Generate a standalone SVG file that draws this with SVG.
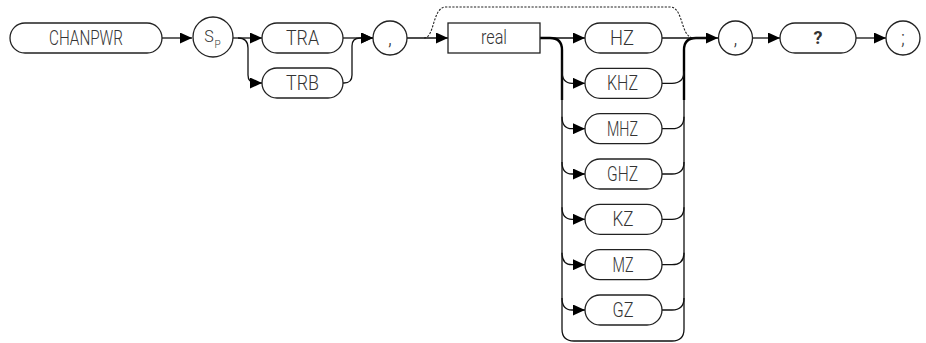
<svg xmlns="http://www.w3.org/2000/svg" width="926" height="343" viewBox="0 0 926 343">
<style>
.n{fill:#fff;stroke:#222;stroke-width:1.3}
.t{font-family:Roboto,"Liberation Sans",sans-serif;font-weight:300;font-size:20px;fill:#333;text-anchor:middle;dominant-baseline:central}
.c{fill:none;stroke:#111;stroke-width:1.3}
.k{fill:none;stroke:#000;stroke-width:2.4}
.d{fill:none;stroke:#222;stroke-width:1.1;stroke-dasharray:2.2 1.4}
</style>
<defs>
<marker id="a" markerUnits="userSpaceOnUse" markerWidth="12" markerHeight="11" refX="12" refY="5.5" orient="auto">
<path d="M0,0 L12,5.5 L0,11 z" fill="#000"/>
</marker>
</defs>
<g id="connectors">
<path class="c" d="M162 38 L192 38" marker-end="url(#a)"/>
<path class="c" d="M233 38 L262 38" marker-end="url(#a)"/>
<path class="c" d="M238 38 Q248 38 248 48 L248 75 Q248 83 256 83 L262 83" marker-end="url(#a)"/>
<path class="c" d="M343 38 L373 38" marker-end="url(#a)"/>
<path class="c" d="M343 83 L344 83 Q352 83 352 75 L352 46 Q352 38 360 38 L373 38" marker-end="url(#a)"/>
<path class="c" d="M407 38 L448 38" marker-end="url(#a)"/>
<path class="d" d="M424 38 C435 38 432 7 446 7 L670 7 C684 7 680 38 694 38"/>
<path class="c" d="M540 38 L585 38" marker-end="url(#a)"/>
<path class="k" d="M540 38 L550 38 Q562 38 562 50 L562 100"/>
<path class="c" d="M562 60 L562 329 Q562 341 574 341 L672 341 Q684 341 684 329 L684 60"/>
<path class="k" d="M684 100 L684 50 Q684 38 696 38 L706 38"/>
<path class="c" d="M662 38 L718 38" marker-end="url(#a)"/>
<path class="c" d="M562 71.3 Q562 83.3 572 83.3 L585 83.3" marker-end="url(#a)"/>
<path class="c" d="M562 116.7 Q562 128.7 572 128.7 L585 128.7" marker-end="url(#a)"/>
<path class="c" d="M562 162 Q562 174 572 174 L585 174" marker-end="url(#a)"/>
<path class="c" d="M562 207.3 Q562 219.3 572 219.3 L585 219.3" marker-end="url(#a)"/>
<path class="c" d="M562 252.7 Q562 264.7 572 264.7 L585 264.7" marker-end="url(#a)"/>
<path class="c" d="M562 298 Q562 310 572 310 L585 310" marker-end="url(#a)"/>
<path class="c" d="M662 83.3 L672 83.3 Q684 83.3 684 71.3"/>
<path class="c" d="M662 128.7 L672 128.7 Q684 128.7 684 116.7"/>
<path class="c" d="M662 174 L672 174 Q684 174 684 162"/>
<path class="c" d="M662 219.3 L672 219.3 Q684 219.3 684 207.3"/>
<path class="c" d="M662 264.7 L672 264.7 Q684 264.7 684 252.7"/>
<path class="c" d="M662 310 L672 310 Q684 310 684 298"/>
<path class="c" d="M753 38 L780 38" marker-end="url(#a)"/>
<path class="c" d="M856 38 L886 38" marker-end="url(#a)"/>
</g>
<g id="chanpwr"><rect class="n" x="10" y="23" width="152" height="30" rx="15"/><text class="t" x="86" y="38" textLength="74" lengthAdjust="spacingAndGlyphs">CHANPWR</text></g>
<g id="sp"><circle class="n" cx="213" cy="37" r="20"/><text class="t" x="209" y="36.5" style="font-size:16px">S</text><text class="t" x="217.5" y="44" style="font-size:10px">P</text></g>
<g id="tra"><rect class="n" x="262" y="23" width="81" height="30" rx="15"/><text class="t" x="302.5" y="38" textLength="33" lengthAdjust="spacingAndGlyphs">TRA</text></g>
<g id="trb"><rect class="n" x="262" y="68" width="81" height="30" rx="15"/><text class="t" x="302.5" y="83" textLength="33" lengthAdjust="spacingAndGlyphs">TRB</text></g>
<g id="comma1"><circle class="n" cx="390" cy="38" r="17"/><text class="t" x="390" y="38">,</text></g>
<g id="real"><rect class="n" x="448" y="23" width="92" height="30"/><text class="t" x="494" y="37" textLength="26" lengthAdjust="spacingAndGlyphs">real</text></g>
<g id="hz"><rect class="n" x="585" y="23" width="77" height="30" rx="15"/><text class="t" x="622" y="38" textLength="24" lengthAdjust="spacingAndGlyphs">HZ</text></g>
<g id="khz"><rect class="n" x="585" y="68.3" width="77" height="30" rx="15"/><text class="t" x="622.5" y="83.3" textLength="31" lengthAdjust="spacingAndGlyphs">KHZ</text></g>
<g id="mhz"><rect class="n" x="585" y="113.7" width="77" height="30" rx="15"/><text class="t" x="622.5" y="128.7" textLength="31" lengthAdjust="spacingAndGlyphs">MHZ</text></g>
<g id="ghz"><rect class="n" x="585" y="159" width="77" height="30" rx="15"/><text class="t" x="622.5" y="174" textLength="31" lengthAdjust="spacingAndGlyphs">GHZ</text></g>
<g id="kz"><rect class="n" x="585" y="204.3" width="77" height="30" rx="15"/><text class="t" x="623" y="219.3" textLength="21" lengthAdjust="spacingAndGlyphs">KZ</text></g>
<g id="mz"><rect class="n" x="585" y="249.7" width="77" height="30" rx="15"/><text class="t" x="623" y="264.7" textLength="21" lengthAdjust="spacingAndGlyphs">MZ</text></g>
<g id="gz"><rect class="n" x="585" y="295" width="77" height="30" rx="15"/><text class="t" x="623" y="310" textLength="21" lengthAdjust="spacingAndGlyphs">GZ</text></g>
<g id="comma2"><circle class="n" cx="735.5" cy="38" r="17"/><text class="t" x="735.5" y="38">,</text></g>
<g id="query"><rect class="n" x="780" y="23" width="76" height="30" rx="15"/><text class="t" x="818" y="37" style="font-weight:bold;font-size:18px">?</text></g>
<g id="semi"><circle class="n" cx="903" cy="38" r="17"/><text class="t" x="903" y="38">;</text></g>
</svg>
